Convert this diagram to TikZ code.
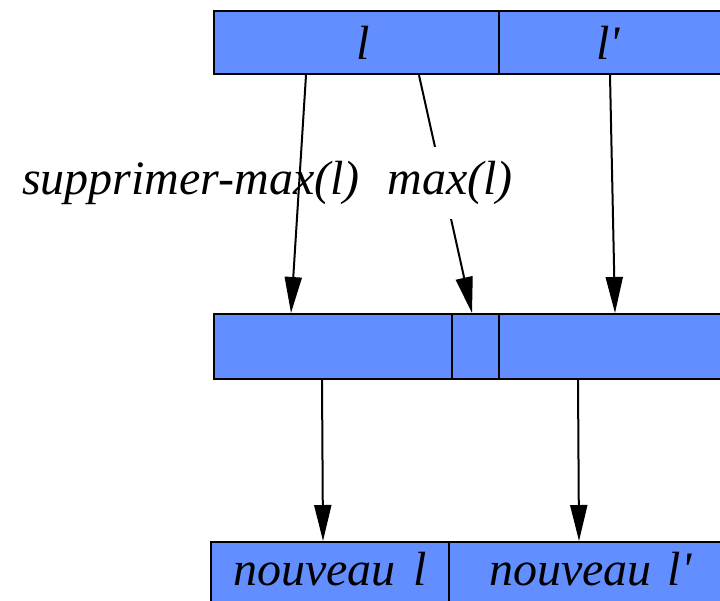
\documentclass[tikz,border=0pt]{standalone}
\usepackage{fontspec}
\newfontfamily\tmsit{Liberation Serif Italic}
\usetikzlibrary{arrows.meta,calc}
\definecolor{cellblue}{RGB}{98,142,255}
\newcommand{\prm}{\symbol{"27}}
\begin{document}
\begin{tikzpicture}[x=1pt,y=-1pt,
  cell/.style={draw=black,line width=2.2pt,fill=cellblue,inner sep=0pt,anchor=north west,
    font=\tmsit\fontsize{48}{52}\selectfont},
  link/.style={line width=2pt,-{Triangle[length=36pt,width=17pt]}},
  lbl/.style={font=\tmsit\fontsize{48}{52}\selectfont,inner sep=2pt}]
\useasboundingbox (0,0) rectangle (720,600);
% top row
\node[cell,minimum width=285pt,minimum height=63pt] (l) at (213,10) {\hspace*{14pt}l};
\node[cell,minimum width=250pt,minimum height=63pt] (lp) at (498,10) {l\prm\hspace*{32pt}};
% middle row
\node[cell,minimum width=238pt,minimum height=65pt] (m1) at (213,313) {};
\node[cell,minimum width=47pt,minimum height=65pt] (m2) at (451,313) {};
\node[cell,minimum width=250pt,minimum height=65pt] (m3) at (498,313) {};
% bottom row
\node[cell,minimum width=238pt,minimum height=70pt,text depth=16pt] (b1) at (210,541) {nouveau\hspace*{18pt}l};
\node[cell,minimum width=300pt,minimum height=70pt,text width=280pt,align=left,text depth=16pt] (b2) at (448,541) {\hspace*{30pt}nouveau l\prm};
% arrows
\draw[link] ($(l.south west)+(93,0)$) -- ($(m1.north west)+(78,0)$);
\draw[link] ($(l.south west)+(206,0)$) -- ($(m2.north west)+(21,0)$);
\draw[link] ($(lp.south west)+(112,0)$) -- ($(m3.north west)+(117,0)$);
\draw[link] ($(m1.south west)+(109,0)$) -- ($(b1.north west)+(113,0)$);
\draw[link] ($(m3.south west)+(80,0)$) -- ($(b2.north west)+(131,0)$);
% labels
\node[lbl] (sm) at (191,183) {supprimer-max(l)};
\node[lbl,fill=white,inner ysep=14pt,inner xsep=0pt] (mx) at (450,183) {max(l)};
\end{tikzpicture}
\end{document}
